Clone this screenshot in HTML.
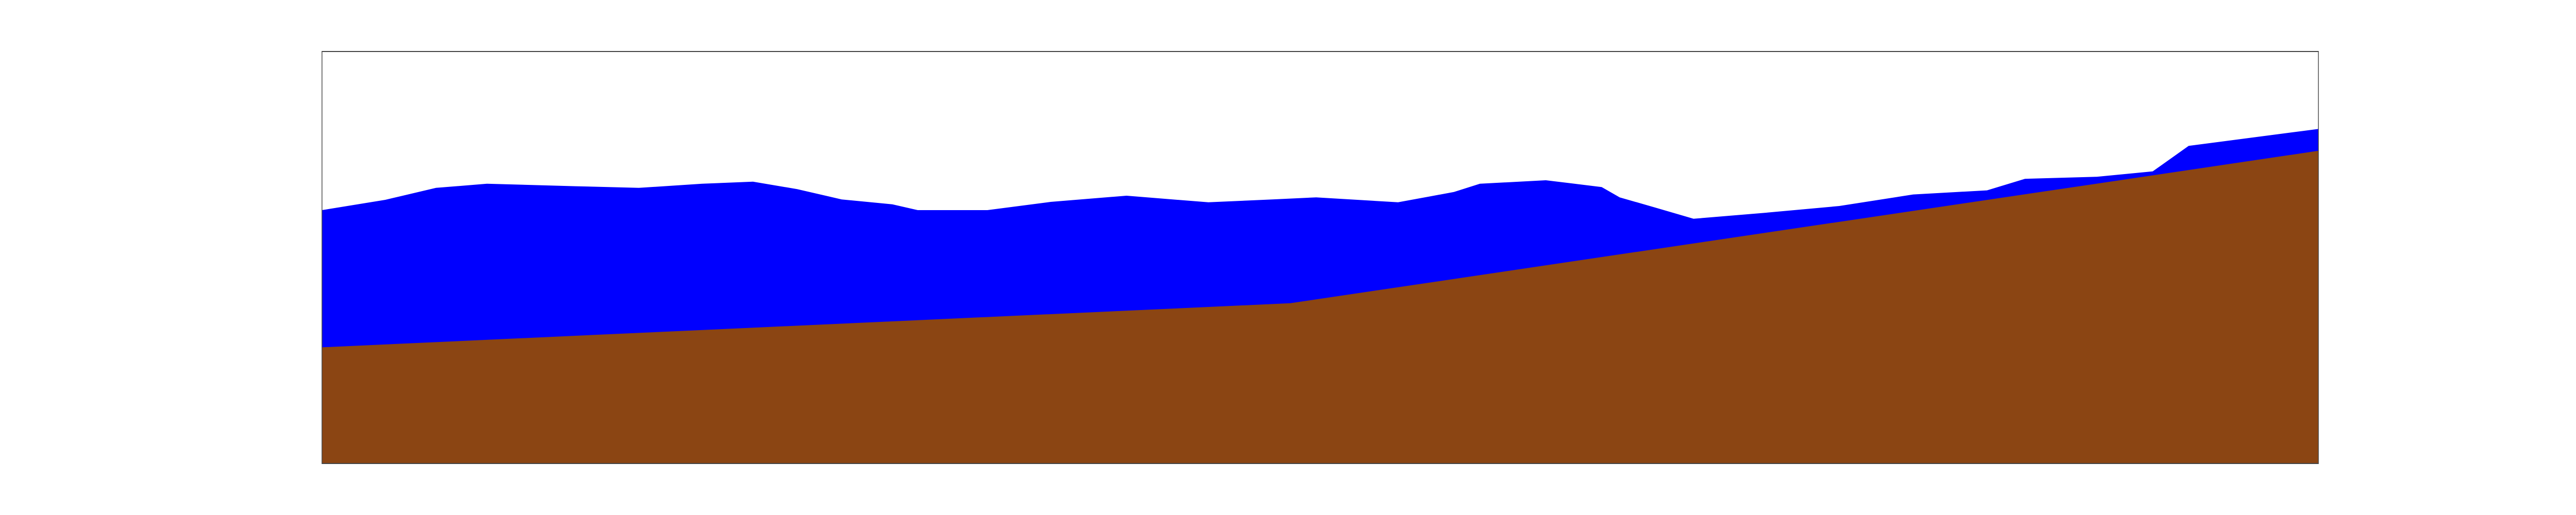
<!DOCTYPE html>
<html><head><meta charset="utf-8"><style>
html,body{margin:0;padding:0;background:#fff;width:100%;height:100%;overflow:hidden}
svg{display:block;width:100vw;height:100vh}
</style></head><body>
<svg id="chart" viewBox="0 0 7000 1000" preserveAspectRatio="none" xmlns="http://www.w3.org/2000/svg">
<rect x="0" y="0" width="7000" height="1000" fill="#ffffff"/>
<g id="plot"></g>
<rect x="875" y="100" width="5425" height="800" fill="none" stroke="#444" stroke-width="2"/>
</svg>
<script>
const waterX = [0,3.17,5.71,8.26,12.7,15.87,19.04,21.59,23.8,26.03,28.57,29.84,33.33,36.5,40.3,44.4,47.6,49.8,53.9,56.7,58,61.3,64.1,65,66.8,68.7,72.4,76,79.7,83.4,85.3,88.9,91.7,93.5,100];
const waterY = [61.5,64,66.9,67.9,67.3,66.9,67.9,68.4,66.6,64.1,62.9,61.5,61.5,63.5,65,63.4,64.1,64.6,63.4,65.9,67.9,68.75,67.1,64.6,62.1,59.4,60.9,62.5,65.3,66.3,69.1,69.6,70.9,77.1,81.2];
const bedX = [0,48.5,100];
const bedY = [28.2,38.9,75.9];

const L=875,R=6300,T=100,B=900;
function sx(v){return L+(v/100)*(R-L);}
function sy(v){return B-(v/100)*(B-T);}
const NS="http://www.w3.org/2000/svg";
const g=document.getElementById('plot');

let d="M"+sx(waterX[0])+","+sy(0);
for(let i=0;i<waterX.length;i++) d+=" L"+sx(waterX[i])+","+sy(waterY[i]);
d+=" L"+sx(100)+","+sy(0)+" Z";
const water=document.createElementNS(NS,'path');
water.setAttribute('d',d);
water.setAttribute('fill','#0000ff');


g.appendChild(water);

let b="M"+sx(bedX[0])+","+sy(0);
for(let i=0;i<bedX.length;i++) b+=" L"+sx(bedX[i])+","+sy(bedY[i]);
b+=" L"+sx(100)+","+sy(0)+" Z";
const bed=document.createElementNS(NS,'path');
bed.setAttribute('d',b);
bed.setAttribute('fill','#8b4513');


g.appendChild(bed);
</script>
</body></html>
